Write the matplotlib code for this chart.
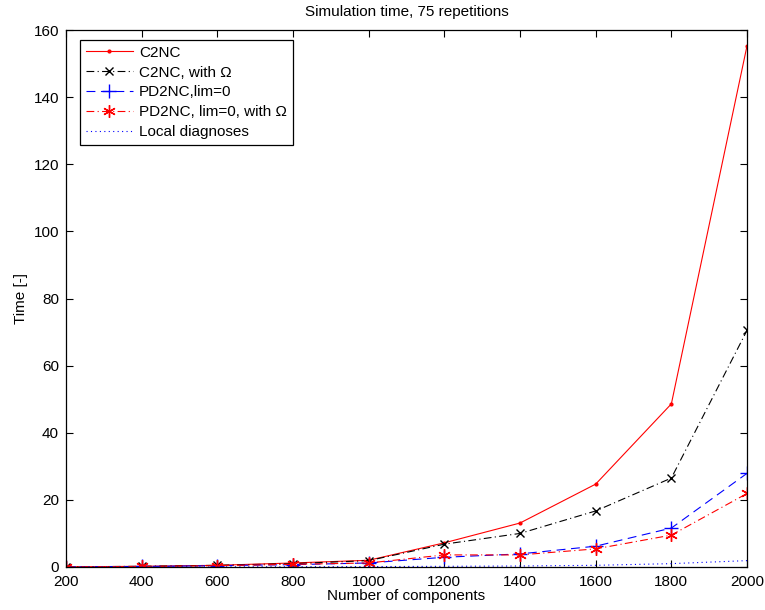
import matplotlib
matplotlib.use("Agg")
import matplotlib.pyplot as plt

plt.rcParams['font.family'] = ['Liberation Sans', 'DejaVu Sans']
plt.rcParams['font.size'] = 11

# number of components
n = [200, 400, 600, 800, 1000, 1200, 1400, 1600, 1800, 2000]

# simulation times
c2nc = [0.05, 0.2, 0.5, 1.2, 2.0, 7.2, 13.1, 24.7, 48.6, 155.3]
c2nc_omega = [0.05, 0.2, 0.5, 1.0, 1.9, 6.8, 10.0, 16.7, 26.5, 70.5]
pd2nc = [0.05, 0.15, 0.4, 0.7, 1.2, 2.9, 3.9, 6.2, 11.6, 27.9]
pd2nc_omega = [0.05, 0.15, 0.4, 0.8, 1.2, 3.6, 3.6, 5.4, 9.5, 21.9]
local_diag = [0.0, 0.02, 0.05, 0.08, 0.12, 0.2, 0.3, 0.5, 1.0, 1.9]

dashdot = (0, (7, 3, 1, 3))
dashed = (0, (8, 5))
asterisk = (6, 2, 0)

fig = plt.figure(figsize=(7.65, 6.1), dpi=100)
ax = fig.add_axes([0.0863, 0.0705, 0.8902, 0.8803])

ax.plot(n, c2nc, color="r", linestyle="-", marker=".", markersize=4,
        linewidth=0.8, label="C2NC")
ax.plot(n, c2nc_omega, color="k", linestyle=dashdot, marker="x", markersize=6,
        linewidth=0.8, label="C2NC, with Ω")
ax.plot(n, pd2nc, color="b", linestyle=dashed, marker="+", markersize=10,
        linewidth=0.8, markeredgewidth=1.0, label="PD2NC,lim=0")
ax.plot(n, pd2nc_omega, color="r", linestyle=dashdot, marker=asterisk,
        markersize=9, markeredgewidth=1.0, linewidth=0.8,
        label="PD2NC, lim=0, with Ω")
ax.plot(n, local_diag, color="b", linestyle=(0, (1, 3)), linewidth=0.8,
        label="Local diagnoses")

ax.set_xlim(200, 2000)
ax.set_ylim(0, 160)
ax.set_xticks(range(200, 2001, 200))
ax.set_yticks(range(0, 161, 20))
ax.tick_params(direction="in", top=True, right=True, length=5, width=0.8,
               labelsize=11)
ax.tick_params(axis="x", pad=6)
ax.tick_params(axis="y", pad=5)
for s in ax.spines.values():
    s.set_linewidth(0.9)

ax.set_title("Simulation time, 75 repetitions", fontsize=11, pad=10)
ax.set_xlabel("Number of components", labelpad=0)
ax.set_ylabel("Time [-]")

leg = ax.legend(loc="upper left", bbox_to_anchor=(0.02, 0.982),
                borderaxespad=0, fancybox=False, edgecolor="black",
                framealpha=1, handlelength=3.1, handletextpad=0.4,
                labelspacing=0.38, borderpad=0.4, fontsize=11)
leg.get_frame().set_linewidth(0.9)

fig.savefig("out.png", dpi=100)
